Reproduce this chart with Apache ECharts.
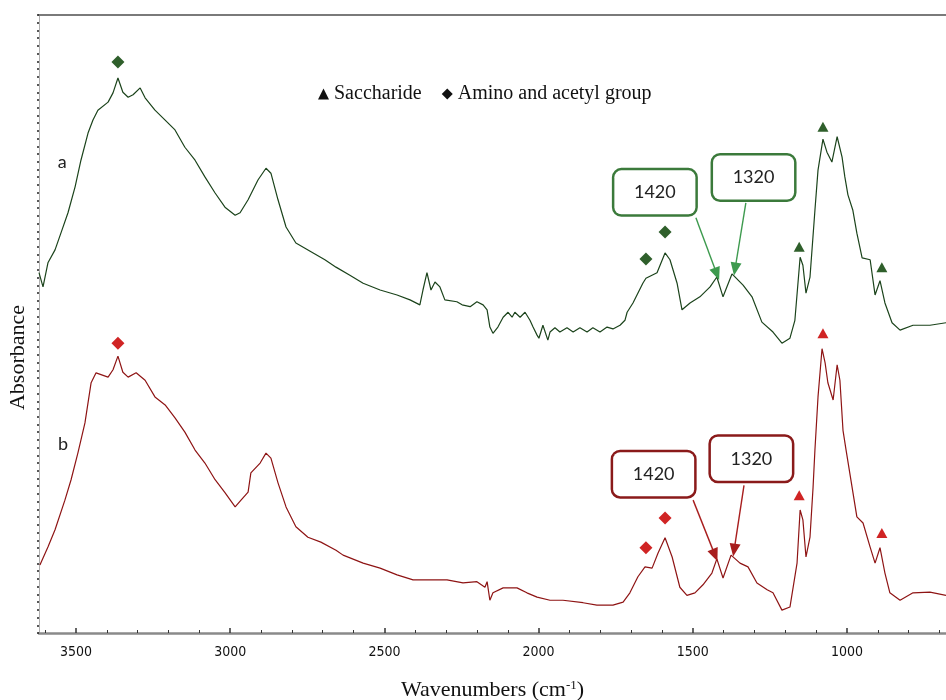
<!DOCTYPE html>
<html>
<head>
<meta charset="utf-8">
<script src="https://cdn.jsdelivr.net/npm/echarts@6/dist/echarts.min.js"></script>
<style>
html, body { margin: 0; padding: 0; background: #fff; }
#container { width: 946px; height: 700px; }
</style>
</head>
<body>
<div id="container"></div>
<script>
// spectrum a (green) : wavenumber / absorbance
var waveA = [3620, 3607, 3591, 3568, 3549, 3526, 3503, 3484, 3461, 3445, 3429, 3396, 3380, 3364, 3348, 3331, 3315, 3292, 3276, 3244,
    3211, 3179, 3147, 3114, 3082, 3049, 3017, 2984, 2968, 2942, 2910, 2884, 2868, 2845, 2819, 2787, 2738, 2693, 2657, 2612,
    2569, 2514, 2459, 2417, 2385, 2375, 2362, 2349, 2336, 2320, 2304, 2265, 2248, 2222, 2200, 2180, 2167, 2158, 2148, 2132,
    2115, 2099, 2086, 2077, 2060, 2044, 2028, 2018, 2005, 1999, 1986, 1970, 1963, 1947, 1931, 1908, 1888, 1866, 1843, 1824,
    1801, 1778, 1759, 1736, 1720, 1713, 1694, 1662, 1652, 1616, 1590, 1574, 1551, 1535, 1509, 1477,
    1444, 1422, 1402, 1373, 1337, 1308, 1276, 1240, 1211, 1185, 1169, 1152, 1143, 1133, 1120, 1104, 1094, 1078, 1065, 1049,
    1032, 1016, 1007, 997, 981, 968, 951, 925, 909, 893, 877, 854, 828, 786, 731, 679];
var absA = [0.583, 0.560, 0.599, 0.620, 0.647, 0.680, 0.722, 0.765, 0.809, 0.830, 0.846, 0.859, 0.874, 0.898, 0.875, 0.867, 0.871, 0.882, 0.866, 0.846,
    0.830, 0.814, 0.786, 0.765, 0.738, 0.712, 0.689, 0.676, 0.680, 0.701, 0.733, 0.752, 0.744, 0.701, 0.657, 0.631, 0.617, 0.604, 0.592, 0.579,
    0.566, 0.555, 0.547, 0.539, 0.531, 0.555, 0.583, 0.555, 0.568, 0.560, 0.539, 0.536, 0.531, 0.528, 0.536, 0.531, 0.523, 0.495, 0.485, 0.495,
    0.511, 0.519, 0.511, 0.519, 0.511, 0.519, 0.506, 0.495, 0.482, 0.477, 0.498, 0.474, 0.487, 0.494, 0.487, 0.494, 0.487, 0.494, 0.487, 0.494,
    0.487, 0.495, 0.492, 0.498, 0.506, 0.519, 0.534, 0.566, 0.574, 0.583, 0.615, 0.604, 0.566, 0.523, 0.534, 0.544,
    0.560, 0.576, 0.544, 0.581, 0.563, 0.544, 0.503, 0.487, 0.469, 0.477, 0.506, 0.608, 0.595, 0.550, 0.576, 0.684, 0.749, 0.799, 0.778, 0.762,
    0.803, 0.770, 0.738, 0.709, 0.684, 0.647, 0.607, 0.604, 0.547, 0.570, 0.534, 0.502, 0.490, 0.498, 0.498, 0.502];

// spectrum b (red)
var waveB = [3617, 3591, 3568, 3536, 3516, 3494, 3471, 3451, 3435, 3396, 3380, 3364, 3348, 3331, 3305, 3276, 3244, 3211, 3179, 3147,
    3114, 3082, 3049, 3017, 2984, 2965, 2942, 2933, 2903, 2884, 2868, 2845, 2819, 2787, 2748, 2706, 2657, 2634, 2569, 2514,
    2459, 2407, 2352, 2297, 2245, 2200, 2174, 2167, 2158, 2148, 2115, 2070, 2038, 2005, 1963, 1921, 1856, 1811, 1759, 1726,
    1704, 1678, 1655, 1632, 1613, 1590, 1567, 1542, 1519, 1493, 1467, 1438, 1422, 1402, 1376, 1347, 1321, 1292, 1259, 1240,
    1211, 1185, 1162, 1152, 1143, 1133, 1120, 1110, 1104, 1094, 1081, 1071, 1062, 1045, 1032, 1023, 1013, 1003, 968, 948,
    925, 909, 893, 877, 861, 828, 786, 731, 679];
var absB = [0.110, 0.139, 0.167, 0.215, 0.248, 0.291, 0.340, 0.405, 0.421, 0.414, 0.426, 0.448, 0.422, 0.414, 0.421, 0.409, 0.382, 0.369, 0.348, 0.325,
    0.296, 0.275, 0.248, 0.227, 0.204, 0.215, 0.228, 0.259, 0.275, 0.291, 0.283, 0.243, 0.204, 0.172, 0.155, 0.147, 0.134, 0.126, 0.113, 0.105,
    0.094, 0.086, 0.086, 0.086, 0.081, 0.083, 0.074, 0.083, 0.053, 0.065, 0.073, 0.073, 0.065, 0.058, 0.053, 0.053, 0.049, 0.045, 0.045, 0.050,
    0.065, 0.091, 0.107, 0.105, 0.129, 0.154, 0.123, 0.074, 0.061, 0.065, 0.078, 0.097, 0.120, 0.089, 0.126, 0.113, 0.107, 0.081, 0.070, 0.065,
    0.037, 0.042, 0.113, 0.199, 0.183, 0.123, 0.155, 0.236, 0.296, 0.382, 0.460, 0.437, 0.405, 0.377, 0.434, 0.409, 0.328, 0.296, 0.188, 0.178,
    0.139, 0.113, 0.138, 0.097, 0.065, 0.053, 0.065, 0.066, 0.061];

// band markers
var sacchWave = [1155, 1078, 887];
var sacchA = [0.625, 0.819, 0.592];
var sacchB = [0.223, 0.485, 0.162];
var aminoWave = [3364, 1652, 1590];
var aminoA = [0.924, 0.605, 0.649];
var aminoB = [0.469, 0.138, 0.186];

var xTicks = [3500, 3000, 2500, 2000, 1500, 1000];
var xMinorTicks = [3600, 3400, 3300, 3200, 3100, 2900, 2800, 2700, 2600, 2400, 2300, 2200, 2100,
    1900, 1800, 1700, 1600, 1400, 1300, 1200, 1100, 900, 800, 700];
var bandLabels = ['1420', '1320'];

var GREEN_LINE = '#1b431b', GREEN_MARK = '#2f5f2b', GREEN_BOX = '#3b7a3b', GREEN_ARROW = '#3d9a4e';
var RED_LINE = '#8e1414', RED_MARK = '#d02424', RED_BOX = '#8a1a1a', RED_ARROW = '#a81e1e';

function pairs(xs, ys) {
    return xs.map(function (x, i) { return [x, ys[i]]; });
}

function callout(name, coord, color) {
    return {
        name: name, coord: coord, symbol: 'rect', symbolSize: 1,
        itemStyle: { color: 'rgba(0,0,0,0)' },
        label: {
            show: true, position: 'inside', formatter: name,
            fontFamily: 'Lato', fontSize: 18, color: '#222',
            backgroundColor: '#fff', borderColor: color, borderWidth: 2.5, borderRadius: 7,
            width: 81, height: 44, lineHeight: 44, align: 'center', verticalAlign: 'middle'
        }
    };
}

function tag(text, coord) {
    return {
        coord: coord, symbol: 'rect', symbolSize: 1,
        itemStyle: { color: 'rgba(0,0,0,0)' },
        label: { show: true, position: 'inside', formatter: text, fontFamily: 'Lato', fontSize: 18, color: '#222' }
    };
}

let chart = echarts.init(document.getElementById('container'));

var option = {
    animation: false,
    backgroundColor: '#fff',
    grid: { left: 39, right: 0, top: 15, bottom: 67, outerBoundsMode: 'none' },
    legend: {
        top: 79, left: 313,
        itemWidth: 11, itemHeight: 11, itemGap: 20,
        textStyle: { fontFamily: 'Liberation Serif', fontSize: 20, color: '#111' },
        data: [
            { name: 'Saccharide', icon: 'triangle', itemStyle: { color: '#111' } },
            { name: 'Amino and acetyl group', icon: 'diamond', itemStyle: { color: '#111' } }
        ]
    },
    graphic: [{
        type: 'text', left: 7, top: 305, rotation: Math.PI / 2,
        style: { text: 'Absorbance', fontFamily: 'Liberation Serif', fontSize: 22, fill: '#111' }
    }],
    xAxis: [{
        type: 'value', inverse: true, min: 679, max: 3620, position: 'bottom',
        name: 'Wavenumbers (cm{sup|-1})', nameLocation: 'middle', nameGap: 46,
        nameTextStyle: {
            fontFamily: 'Liberation Serif', fontSize: 22, color: '#111',
            rich: { sup: { fontFamily: 'Liberation Serif', fontSize: 13, verticalAlign: 'top', padding: [0, 0, 10, 0], color: '#111' } }
        },
        axisLine: { lineStyle: { color: '#8a8a8a', width: 2.5 } },
        axisTick: { inside: true, length: 5, customValues: xTicks, lineStyle: { color: '#333', width: 1.5 } },
        axisLabel: {
            customValues: xTicks, margin: 12, fontFamily: 'DejaVu Sans Condensed', fontSize: 14, color: '#111',
            formatter: function (v) { return String(v); }
        },
        splitLine: { show: false }
    }, {
        type: 'value', inverse: true, min: 679, max: 3620, position: 'bottom',
        axisLine: { show: false },
        axisTick: { inside: true, length: 3, customValues: xMinorTicks, lineStyle: { color: '#333', width: 1 } },
        axisLabel: { show: false },
        splitLine: { show: false }
    }, {
        type: 'value', inverse: true, min: 679, max: 3620, position: 'top',
        axisLine: { lineStyle: { color: '#7a7a7a', width: 2 } },
        axisTick: { show: false }, axisLabel: { show: false }, splitLine: { show: false }
    }],
    yAxis: {
        type: 'value', min: 0, max: 1, interval: 0.0125,
        axisLine: { show: true, lineStyle: { color: '#b0b0b0', width: 1 } },
        axisTick: { show: true, length: 2, lineStyle: { color: '#222', width: 1.5 } },
        axisLabel: { show: false },
        splitLine: { show: false }
    },
    series: [{
        type: 'line', name: 'a', data: pairs(waveA, absA),
        showSymbol: false, lineStyle: { color: GREEN_LINE, width: 1.2 }, itemStyle: { color: GREEN_LINE },
        markPoint: {
            silent: true,
            data: [tag('a', [3545, 0.762]), callout(bandLabels[0], [1623, 0.713], GREEN_BOX), callout(bandLabels[1], [1303, 0.737], GREEN_BOX)]
        },
        markLine: {
            silent: true, symbol: ['none', 'triangle'], symbolSize: [11, 13],
            lineStyle: { color: GREEN_ARROW, width: 1.4, type: 'solid' },
            label: { show: false },
            data: [
                [{ coord: [1490, 0.672] }, { coord: [1422, 0.581] }],
                [{ coord: [1328, 0.696] }, { coord: [1363, 0.589] }]
            ]
        }
    }, {
        type: 'line', name: 'b', data: pairs(waveB, absB),
        showSymbol: false, lineStyle: { color: RED_LINE, width: 1.2 }, itemStyle: { color: RED_LINE },
        markPoint: {
            silent: true,
            data: [tag('b', [3542, 0.306]), callout(bandLabels[0], [1627, 0.257], RED_BOX), callout(bandLabels[1], [1310, 0.282], RED_BOX)]
        },
        markLine: {
            silent: true, symbol: ['none', 'triangle'], symbolSize: [11, 13],
            lineStyle: { color: RED_ARROW, width: 1.4, type: 'solid' },
            label: { show: false },
            data: [
                [{ coord: [1499, 0.215] }, { coord: [1428, 0.126] }],
                [{ coord: [1334, 0.239] }, { coord: [1366, 0.134] }]
            ]
        }
    }, {
        type: 'scatter', name: 'Saccharide', symbol: 'triangle', symbolSize: [11, 10],
        data: pairs(sacchWave, sacchA), itemStyle: { color: GREEN_MARK, opacity: 1 }
    }, {
        type: 'scatter', name: 'Saccharide', symbol: 'triangle', symbolSize: [11, 10],
        data: pairs(sacchWave, sacchB), itemStyle: { color: RED_MARK, opacity: 1 }
    }, {
        type: 'scatter', name: 'Amino and acetyl group', symbol: 'diamond', symbolSize: [13, 13],
        data: pairs(aminoWave, aminoA), itemStyle: { color: GREEN_MARK, opacity: 1 }
    }, {
        type: 'scatter', name: 'Amino and acetyl group', symbol: 'diamond', symbolSize: [13, 13],
        data: pairs(aminoWave, aminoB), itemStyle: { color: RED_MARK, opacity: 1 }
    }]
};

chart.setOption(option);
</script>
</body>
</html>
